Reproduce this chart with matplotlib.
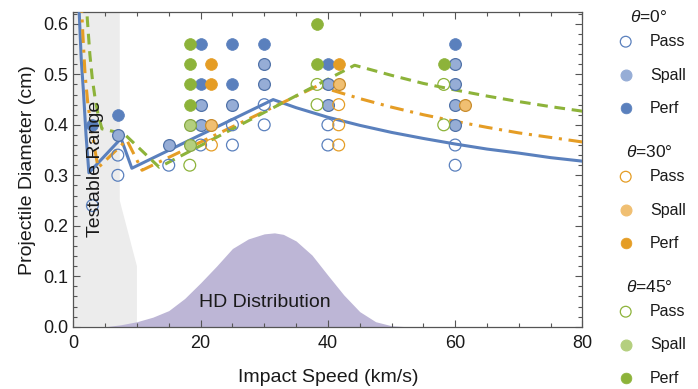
import matplotlib
matplotlib.use("Agg")
import matplotlib.pyplot as plt
import numpy as np

plt.rcParams["font.family"] = ["Liberation Sans", "DejaVu Sans"]
plt.rcParams["mathtext.fontset"] = "custom"
plt.rcParams["mathtext.it"] = "Liberation Sans:italic"
plt.rcParams["mathtext.rm"] = "Liberation Sans"

# ballistic limit curves (projectile diameter vs impact speed)
bl0_v = [0.88, 0.95, 1.25, 1.6, 2.0, 2.45, 7.5, 9.2, 31.4, 35, 40, 45, 50, 55, 60, 65, 70, 75, 80]
bl0_d = [0.65, 0.617, 0.53, 0.465, 0.38, 0.305, 0.373, 0.314, 0.450, 0.434, 0.415, 0.399,
         0.385, 0.373, 0.362, 0.352, 0.344, 0.335, 0.328]
bl30_v = [1.2, 1.5, 1.85, 2.3, 2.9, 3.4, 3.9, 8.4, 10.8, 38.5, 40, 45, 50, 55, 60, 65, 70, 75, 80]
bl30_d = [0.66, 0.58, 0.50, 0.44, 0.39, 0.35, 0.315, 0.37, 0.31, 0.478, 0.471, 0.452,
          0.435, 0.420, 0.407, 0.395, 0.384, 0.375, 0.366]
bl45_v = [2.0, 2.2, 2.6, 3.0, 3.4, 3.9, 4.5, 8.0, 13.5, 44.2, 50, 55, 60, 65, 70, 75, 80]
bl45_d = [0.66, 0.61, 0.54, 0.49, 0.455, 0.42, 0.392, 0.382, 0.316, 0.518, 0.498, 0.482,
          0.469, 0.457, 0.446, 0.436, 0.427]

# impact speed distribution (arbitrary scale)
hd_v = [5, 7.5, 10, 12.5, 15, 17.5, 20, 22.5, 25, 27.5, 30, 31.6, 33, 35, 37.5, 40,
        42.5, 45, 47.5, 50, 52.5]
hd_y = [0.0, 0.004, 0.01, 0.019, 0.032, 0.056, 0.087, 0.12, 0.155, 0.174, 0.184, 0.186,
        0.183, 0.170, 0.142, 0.102, 0.063, 0.030, 0.010, 0.002, 0.0]

# testable range outline
tr_v = [0, 0, 7.3, 7.3, 10, 10]
tr_d = [0, 0.7, 0.7, 0.25, 0.12, 0]

# test shots: theta = 0
t0_pass_v = [3, 7, 7, 15, 20, 25, 25, 30, 30, 40, 40, 60, 60]
t0_pass_d = [0.24, 0.34, 0.30, 0.32, 0.36, 0.40, 0.36, 0.44, 0.40, 0.40, 0.36, 0.36, 0.32]
t0_spall_v = [7, 15, 20, 20, 25, 30, 30, 40, 40, 60, 60, 60, 60]
t0_spall_d = [0.38, 0.36, 0.44, 0.40, 0.44, 0.52, 0.48, 0.48, 0.44, 0.52, 0.48, 0.44, 0.40]
t0_perf_v = [3, 7, 20, 20, 25, 25, 30, 40, 60]
t0_perf_d = [0.40, 0.42, 0.56, 0.48, 0.56, 0.48, 0.56, 0.52, 0.56]

# theta = 30
t30_pass_v = [21.7, 41.7, 41.7, 41.7]
t30_pass_d = [0.36, 0.44, 0.40, 0.36]
t30_spall_v = [21.7, 41.7, 61.6]
t30_spall_d = [0.40, 0.48, 0.44]
t30_perf_v = [21.7, 21.7, 41.7]
t30_perf_d = [0.52, 0.48, 0.52]

# theta = 45
t45_pass_v = [18.3, 38.3, 38.3, 58.2, 58.2]
t45_pass_d = [0.32, 0.48, 0.44, 0.48, 0.40]
t45_spall_v = [18.3, 18.3]
t45_spall_d = [0.40, 0.36]
t45_perf_v = [18.3, 18.3, 18.3, 18.3, 38.3, 38.3, 58.2]
t45_perf_d = [0.56, 0.52, 0.48, 0.44, 0.60, 0.52, 0.52]

angle_labels = [r"$\theta$=0°", r"$\theta$=30°", r"$\theta$=45°"]
outcome_labels = ["Pass", "Spall", "Perf"]

# (main colour, spall fill, spall edge)
colors = [("#5a80bd", "#96add6", "#5072a8"),
          ("#e59d25", "#f0bf72", "#c98c2c"),
          ("#8db33a", "#b4cf7e", "#87a843")]

groups = [
    [(t0_pass_v, t0_pass_d), (t0_spall_v, t0_spall_d), (t0_perf_v, t0_perf_d)],
    [(t30_pass_v, t30_pass_d), (t30_spall_v, t30_spall_d), (t30_perf_v, t30_perf_d)],
    [(t45_pass_v, t45_pass_d), (t45_spall_v, t45_spall_d), (t45_perf_v, t45_perf_d)],
]

fig = plt.figure(figsize=(6.98, 3.89), dpi=100)
ax = fig.add_axes([0.105, 0.160, 0.7295, 0.808])

ax.fill(tr_v, tr_d, color="#ececec", lw=0, zorder=0)
ax.fill_between(hd_v, hd_y, color="#bdb6d6", lw=0, zorder=1)

ax.plot(bl0_v, bl0_d, color=colors[0][0], lw=2.2, zorder=3)
ax.plot(bl30_v, bl30_d, color=colors[1][0], lw=2.2, dashes=(4.5, 2.2, 1.0, 2.2), zorder=3)
ax.plot(bl45_v, bl45_d, color=colors[2][0], lw=2.2, dashes=(3.5, 2.2), zorder=3)


def draw_shots(a, pts, col, s, spall_edge=True):
    main, light, dark = col
    (pv, pd), (sv, sd), (fv, fd) = pts
    a.scatter(pv, pd, s=s, facecolor="none", edgecolor=main, lw=0.9, zorder=4)
    a.scatter(sv, sd, s=s, facecolor=light, edgecolor=dark if spall_edge else light,
              lw=0.9, zorder=4)
    a.scatter(fv, fd, s=s, facecolor=main, edgecolor=main, lw=0.5, zorder=4)


for g, c in zip(groups, colors):
    draw_shots(ax, g, c, 72)

ax.text(30.1, 0.049, "HD Distribution", fontsize=14, ha="center", va="center",
        color="#1a1a1a", zorder=2)
ax.text(3.5, 0.313, "Testable Range", fontsize=14, rotation=90, ha="center",
        va="center", color="#1a1a1a", zorder=5)

ax.set_xlim(0, 80)
ax.set_ylim(0, 0.6226)
ax.set_xticks([0, 20, 40, 60, 80])
ax.set_xticks(np.arange(0, 81, 5), minor=True)
ax.set_yticks([0.0, 0.1, 0.2, 0.3, 0.4, 0.5, 0.6])
ax.set_yticks(np.arange(0, 0.621, 0.02), minor=True)
ax.set_yticklabels([f"{t:.1f}" for t in ax.get_yticks()])
ax.tick_params(which="both", direction="in", top=True, right=True, color="#555555",
               labelsize=13, labelcolor="#1a1a1a", width=0.8)
ax.tick_params(which="major", length=5)
ax.tick_params(which="minor", length=3)
ax.tick_params(axis="x", pad=6)
for sp in ax.spines.values():
    sp.set_color("#555555")
    sp.set_linewidth(0.9)
ax.set_xlabel("Impact Speed (km/s)", fontsize=14, color="#1a1a1a", labelpad=12)
ax.set_ylabel("Projectile Diameter (cm)", fontsize=14, color="#1a1a1a", labelpad=5)

# legend panel in pixel coordinates
lax = fig.add_axes([0, 0, 1, 1])
lax.set_xlim(0, 698)
lax.set_ylim(389, 0)
lax.axis("off")
title_y = [16.7, 151.7, 286.7]
for k in range(3):
    lax.text(649, title_y[k], angle_labels[k], fontsize=12.5, ha="center", va="center",
             color="#1a1a1a")
    main, light, dark = colors[k]
    for j in range(3):
        y = title_y[k] + 25 + 33.3 * j
        if j == 0:
            lax.scatter([625.7], [y], s=60, facecolor="none", edgecolor=main, lw=0.9)
        elif j == 1:
            lax.scatter([625.7], [y], s=60, facecolor=light, edgecolor=light, lw=0.9)
        else:
            lax.scatter([625.7], [y], s=60, facecolor=main, edgecolor=main, lw=0.5)
        lax.text(650, y, outcome_labels[j], fontsize=11.5, ha="left", va="center",
                 color="#1a1a1a")

fig.savefig("out.png", dpi=100)
